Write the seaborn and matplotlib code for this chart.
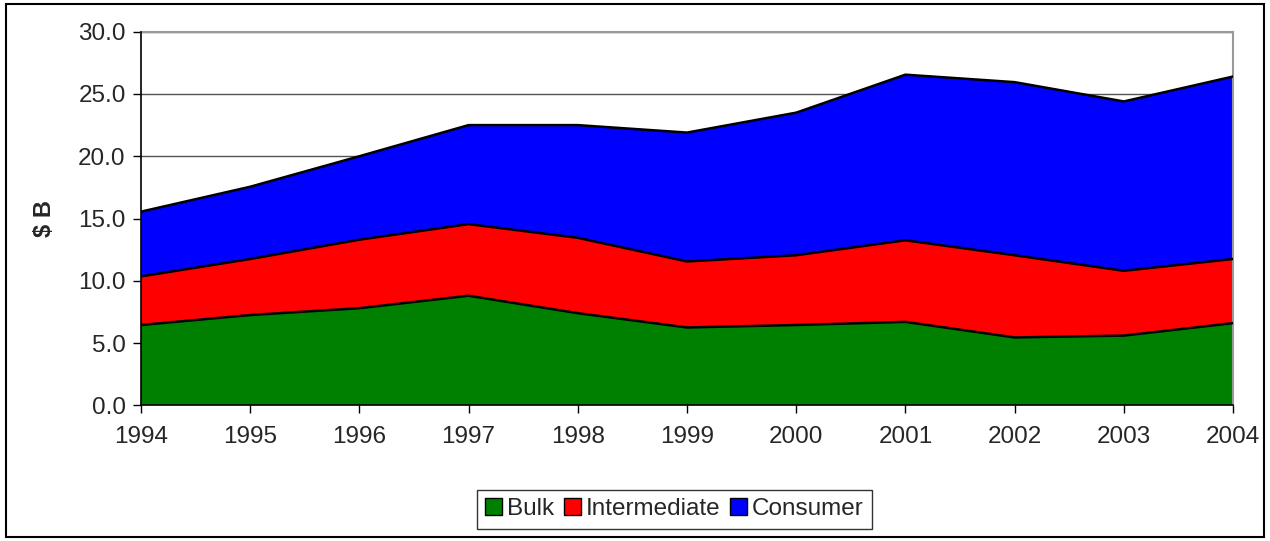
import matplotlib
matplotlib.use("Agg")
import matplotlib.pyplot as plt
from matplotlib.patches import Rectangle, Patch
import seaborn as sns
import pandas as pd
import numpy as np

# dados ($ B)
anos = [1994, 1995, 1996, 1997, 1998, 1999, 2000, 2001, 2002, 2003, 2004]
bulk = [6.45, 7.25, 7.8, 8.8, 7.4, 6.25, 6.45, 6.7, 5.45, 5.6, 6.6]
intermediate = [3.9, 4.5, 5.5, 5.75, 6.05, 5.3, 5.6, 6.55, 6.6, 5.2, 5.15]
consumer = [5.2, 5.8, 6.7, 7.95, 9.05, 10.35, 11.45, 13.3, 13.9, 13.6, 14.65]

series = ["Bulk", "Intermediate", "Consumer"]
cores = ["#008000", "#ff0000", "#0000ff"]

df = pd.DataFrame({"Ano": anos, "Bulk": bulk,
                   "Intermediate": intermediate, "Consumer": consumer})

sns.set_style("white")
plt.rcParams["font.family"] = ["Liberation Sans", "DejaVu Sans"]

fig = plt.figure(figsize=(12.7, 5.41), dpi=100)
ax = fig.add_axes([0.111, 0.2508, 0.8599, 0.6906])

# áreas empilhadas
ax.stackplot(df["Ano"], df["Bulk"], df["Intermediate"], df["Consumer"],
             colors=cores, edgecolor="none", zorder=2)

# contornos pretos de cada camada com seaborn
acum = df[series].cumsum(axis=1)
for s in series:
    sns.lineplot(x=df["Ano"], y=acum[s], ax=ax, color="black",
                 linewidth=1.8, zorder=3, legend=False)

ax.set_xlim(1994, 2004)
ax.set_ylim(0, 30)
ax.set_xticks(anos)
ax.set_xticklabels([str(a) for a in anos])
ax.set_yticks(np.arange(0, 31, 5))
ax.set_yticklabels([f"{v:.1f}" for v in np.arange(0, 31, 5)])

ax.grid(axis="y", color="#555555", linewidth=1, zorder=1)
ax.set_axisbelow(True)

for lado in ["top", "right"]:
    ax.spines[lado].set_color("#999999")
    ax.spines[lado].set_linewidth(1.5)
for lado in ["left", "bottom"]:
    ax.spines[lado].set_color("black")
    ax.spines[lado].set_linewidth(1.2)
    ax.spines[lado].set_zorder(4)

ax.tick_params(axis="both", direction="out", length=6, width=1,
               color="black", labelsize=17.5, left=True, bottom=True)
ax.tick_params(axis="x", pad=9)
ax.tick_params(axis="y", pad=5)

ax.set_xlabel("")
ax.set_ylabel("$ B", fontsize=17, fontweight="bold", labelpad=16)

# legenda
handles = [Patch(facecolor=c, edgecolor="black", linewidth=1) for c in cores]
leg = fig.legend(handles, series, loc="center", bbox_to_anchor=(0.531, 0.059),
                 ncol=3, fontsize=17.5, frameon=True, fancybox=False,
                 edgecolor="black", handlelength=0.7, handleheight=0.7,
                 handletextpad=0.2, columnspacing=0.4, borderpad=0.35)
leg.get_frame().set_linewidth(1)

# borda externa do gráfico
fig.patches.append(Rectangle((0.005, 0.008), 0.99, 0.984, transform=fig.transFigure,
                             fill=False, edgecolor="black", linewidth=1.5))

plt.savefig("out.png", dpi=100)
